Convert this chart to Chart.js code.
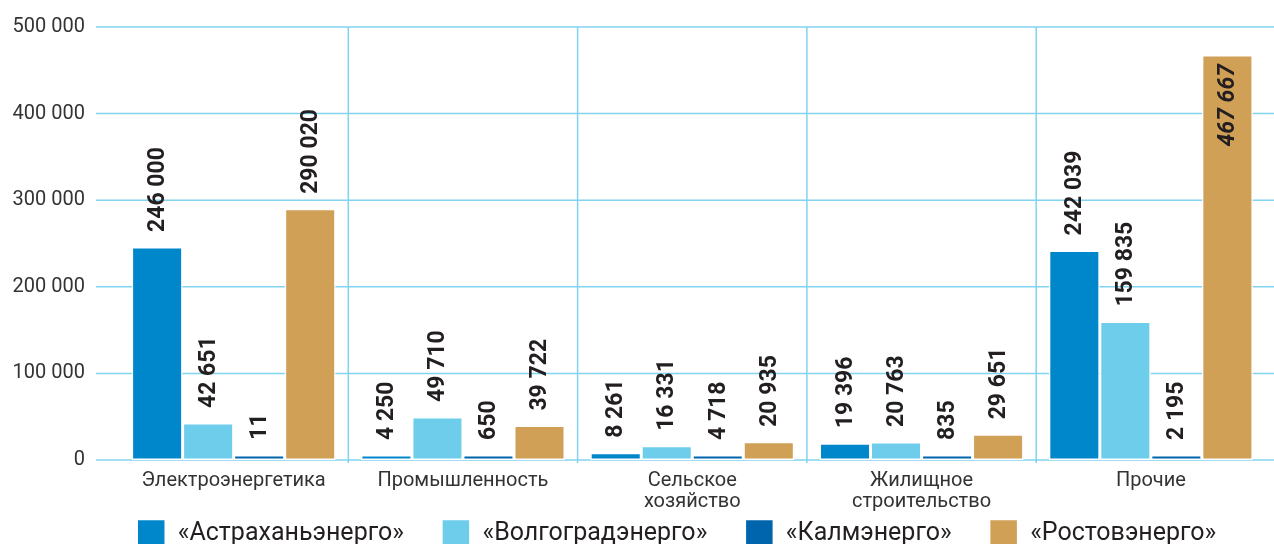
<!DOCTYPE html>
<html>
<head>
<meta charset="utf-8">
<script src="https://cdn.jsdelivr.net/npm/chart.js@4"></script>
<style>
html,body{margin:0;padding:0;background:#fff;}
#wrap{position:relative;width:1274px;height:544px;}
</style>
</head>
<body>
<div id="wrap"><canvas id="c"></canvas></div>
<script>
const categories = ["Электроэнергетика", "Промышленность", ["Сельское", "хозяйство"], ["Жилищное", "строительство"], "Прочие"];
const seriesNames = ["«Астраханьэнерго»", "«Волгоградэнерго»", "«Калмэнерго»", "«Ростовэнерго»"];
const astrakhan = [246000, 4250, 8261, 19396, 242039];
const volgograd = [42651, 49710, 16331, 20763, 159835];
const kalm = [11, 650, 4718, 835, 2195];
const rostov = [290020, 39722, 20935, 29651, 467667];
const yMax = 500000;
const yStep = 100000;

const colors = ["#0087cb", "#6dcdeb", "#0065ac", "#cfa056"];
const GRID = "#82d3ef";

function fmt(v){ return String(v).replace(/\B(?=(\d{3})+(?!\d))/g, " "); }

const gridPlugin = {
  id: "customGrid",
  afterLayout(chart){
    const L = chart.legend;
    if (L){
      const dx = 44;
      L.left += dx; L.right += dx;
      const p = L.options.labels.padding;
      L.top = 519.5 - p;
      L.bottom = 544;
      L.height = L.bottom - L.top;
    }
  },
  beforeDatasetsDraw(chart){
    const {ctx, chartArea: a, scales: {x, y}} = chart;
    ctx.save();
    ctx.strokeStyle = GRID;
    ctx.lineWidth = 1.5;
    y.ticks.forEach(t => {
      const py = y.getPixelForValue(t.value);
      ctx.beginPath(); ctx.moveTo(a.left - 23, py); ctx.lineTo(a.right + 9, py); ctx.stroke();
    });
    for (let i = 1; i < categories.length; i++){
      const px = (x.getPixelForValue(i - 1) + x.getPixelForValue(i)) / 2;
      ctx.beginPath(); ctx.moveTo(px, a.top); ctx.lineTo(px, a.bottom + 3); ctx.stroke();
    }
    ctx.restore();
  }
};

const labelPlugin = {
  id: "valueLabels",
  afterDatasetsDraw(chart){
    const {ctx, chartArea: a} = chart;
    ctx.save();
    ctx.fillStyle = "#231f20";
    ctx.textBaseline = "middle";
    chart.data.datasets.forEach((ds, di) => {
      const meta = chart.getDatasetMeta(di);
      meta.data.forEach((bar, i) => {
        const text = fmt(ds.data[i]);
        ctx.font = "bold 23px Roboto";
        const w = ctx.measureText(text).width;
        const gap = 15;
        const inside = (bar.y - gap - w) < a.top;
        ctx.save();
        ctx.translate(bar.x, inside ? bar.y + 9 : bar.y - gap);
        ctx.rotate(-Math.PI / 2);
        if (inside){
          ctx.font = "italic bold 23px Roboto";
          ctx.textAlign = "right";
        } else {
          ctx.textAlign = "left";
        }
        ctx.fillText(text, 0, 1);
        ctx.restore();
      });
    });
    ctx.restore();
  }
};

const seriesData = [astrakhan, volgograd, kalm, rostov];

new Chart(document.getElementById("c"), {
  type: "bar",
  data: {
    labels: categories,
    datasets: seriesNames.map((n, k) => ({
      label: n,
      data: seriesData[k],
      backgroundColor: colors[k],
      borderColor: "#ffffff",
      borderWidth: 1.5,
      borderSkipped: false,
      minBarLength: 5,
      barPercentage: 1,
      categoryPercentage: 0.89
    }))
  },
  options: {
    responsive: true,
    maintainAspectRatio: false,
    animation: false,
    layout: { padding: { top: 27, left: 0, right: 8.5, bottom: 0 } },
    plugins: {
      tooltip: { enabled: false },
      legend: {
        position: "bottom",
        maxHeight: 32,
        labels: {
          boxWidth: 28,
          boxHeight: 28,
          padding: 38,
          color: "#231f20",
          font: { family: "Roboto", size: 25 }
        }
      }
    },
    scales: {
      x: {
        grid: { display: false, drawTicks: false },
        border: { display: false },
        ticks: {
          color: "#333333",
          padding: 10,
          maxRotation: 0,
          autoSkip: false,
          font: { family: "Roboto", size: 20, lineHeight: 1.05 }
        },
        afterFit(s){ s.height = 52; }
      },
      y: {
        min: 0,
        max: yMax,
        grid: { display: false, drawTicks: true, tickLength: 30 },
        border: { display: false },
        ticks: {
          stepSize: yStep,
          color: "#333333",
          padding: 4,
          font: { family: "Roboto", size: 20 },
          callback: v => fmt(v)
        },
        afterFit(s){ s.width = 119; }
      }
    }
  },
  plugins: [gridPlugin, labelPlugin]
});
</script>
</body>
</html>
